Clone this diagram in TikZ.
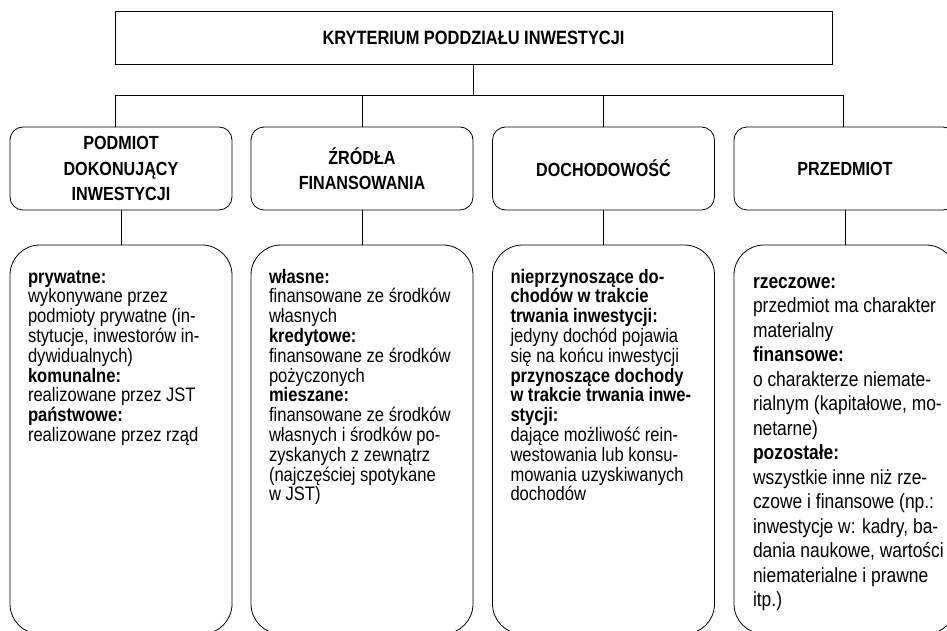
\documentclass[tikz,border=0pt]{standalone}
\usepackage{fontspec}
\setmainfont[FakeStretch=0.85]{Liberation Sans}
\begin{document}
\begin{tikzpicture}[x=1pt,y=-1pt,
  every node/.style={inner sep=0pt, outer sep=0pt},
  conn/.style={draw=black, line width=0.8pt},
  titlebox/.style={draw=black, line width=0.8pt, minimum width=717pt, minimum height=53pt,
    font=\fontsize{19.3}{22}\selectfont\bfseries},
  headbox/.style={draw=black, line width=0.8pt, rounded corners=13pt, minimum width=222pt,
    minimum height=83pt, align=center, font=\fontsize{19}{25.5}\selectfont\bfseries},
  bodybox/.style={draw=black, line width=0.8pt, rounded corners=30pt, minimum width=222pt,
    minimum height=389pt},
  bodytext/.style={anchor=north west, align=left, font=\fontsize{19.5}{19.8}\selectfont},
  bodytextb/.style={anchor=north west, align=left, font=\fontsize{20.5}{24.5}\selectfont}
]
\useasboundingbox (0,0) rectangle (947,631);
\fill[white] (0,0) rectangle (947,631);

\node[titlebox] (title) at (473.5,37.5) {KRYTERIUM PODDZIAŁU INWESTYCJI};

\coordinate (busL) at (115,95);
\coordinate (busR) at (843,95);

\node[headbox] (h1) at (121,168.5) {PODMIOT\\DOKONUJĄCY\\INWESTYCJI};
\node[headbox] (h2) at (362,168.5) {ŹRÓDŁA\\FINANSOWANIA};
\node[headbox] (h3) at (603.5,168.5) {DOCHODOWOŚĆ};
\node[headbox] (h4) at (845,168.5) {PRZEDMIOT};

\node[bodybox] (b1) at (121,439.5) {};
\node[bodybox] (b2) at (362,439.5) {};
\node[bodybox] (b3) at (603.5,439.5) {};
\node[bodybox] (b4) at (845,439.5) {};

\node[bodytext, xshift=18pt, yshift=-22pt] (t1) at (b1.north west) {\rule{0pt}{16pt}\textbf{prywatne:}\\
wykonywane przez\\
podmioty prywatne (in-\\
stytucje, inwestorów in-\\
dywidualnych)\\
\textbf{komunalne:}\\
realizowane przez JST\\
\textbf{państwowe:}\\
realizowane przez rząd};

\node[bodytext, xshift=18pt, yshift=-22pt] (t2) at (b2.north west) {\rule{0pt}{16pt}\textbf{własne:}\\
finansowane ze środków\\
własnych\\
\textbf{kredytowe:}\\
finansowane ze środków\\
pożyczonych\\
\textbf{mieszane:}\\
finansowane ze środków\\
własnych i środków po-\\
zyskanych z zewnątrz\\
(najczęściej spotykane\\
w JST)};

\node[bodytext, xshift=18pt, yshift=-22pt] (t3) at (b3.north west) {\rule{0pt}{16pt}\textbf{nieprzynoszące do-}\\
\textbf{chodów w trakcie}\\
\textbf{trwania inwestycji:}\\
jedyny dochód pojawia\\
się na końcu inwestycji\\
\textbf{przynoszące dochody}\\
\textbf{w trakcie trwania inwe-}\\
\textbf{stycji:}\\
dające możliwość rein-\\
westowania lub konsu-\\
mowania uzyskiwanych\\
dochodów};

\node[bodytextb, xshift=19pt, yshift=-27pt] (t4) at (b4.north west) {\rule{0pt}{16pt}\textbf{rzeczowe:}\\
przedmiot ma charakter\\
materialny\\
\textbf{finansowe:}\\
o charakterze niemate-\\
rialnym (kapitałowe, mo-\\
netarne)\\
\textbf{pozostałe:}\\
wszystkie inne niż rze-\\
czowe i finansowe (np.:\\
inwestycje w: kadry, ba-\\
dania naukowe, wartości\\
niematerialne i prawne\\
itp.)};

\draw[conn] (title.south) -- (title.south |- busL);
\draw[conn] (busL) -- (busR);
\draw[conn] (busL) -- (busL |- h1.north);
\draw[conn] (h2.north |- busL) -- (h2.north);
\draw[conn] (h3.north |- busL) -- (h3.north);
\draw[conn] (busR) -- (busR |- h4.north);
\draw[conn] (h1.south) -- (b1.north);
\draw[conn] (h2.south) -- (b2.north);
\draw[conn] (h3.south) -- (b3.north);
\draw[conn] (h4.south) -- (b4.north);
\end{tikzpicture}
\end{document}
